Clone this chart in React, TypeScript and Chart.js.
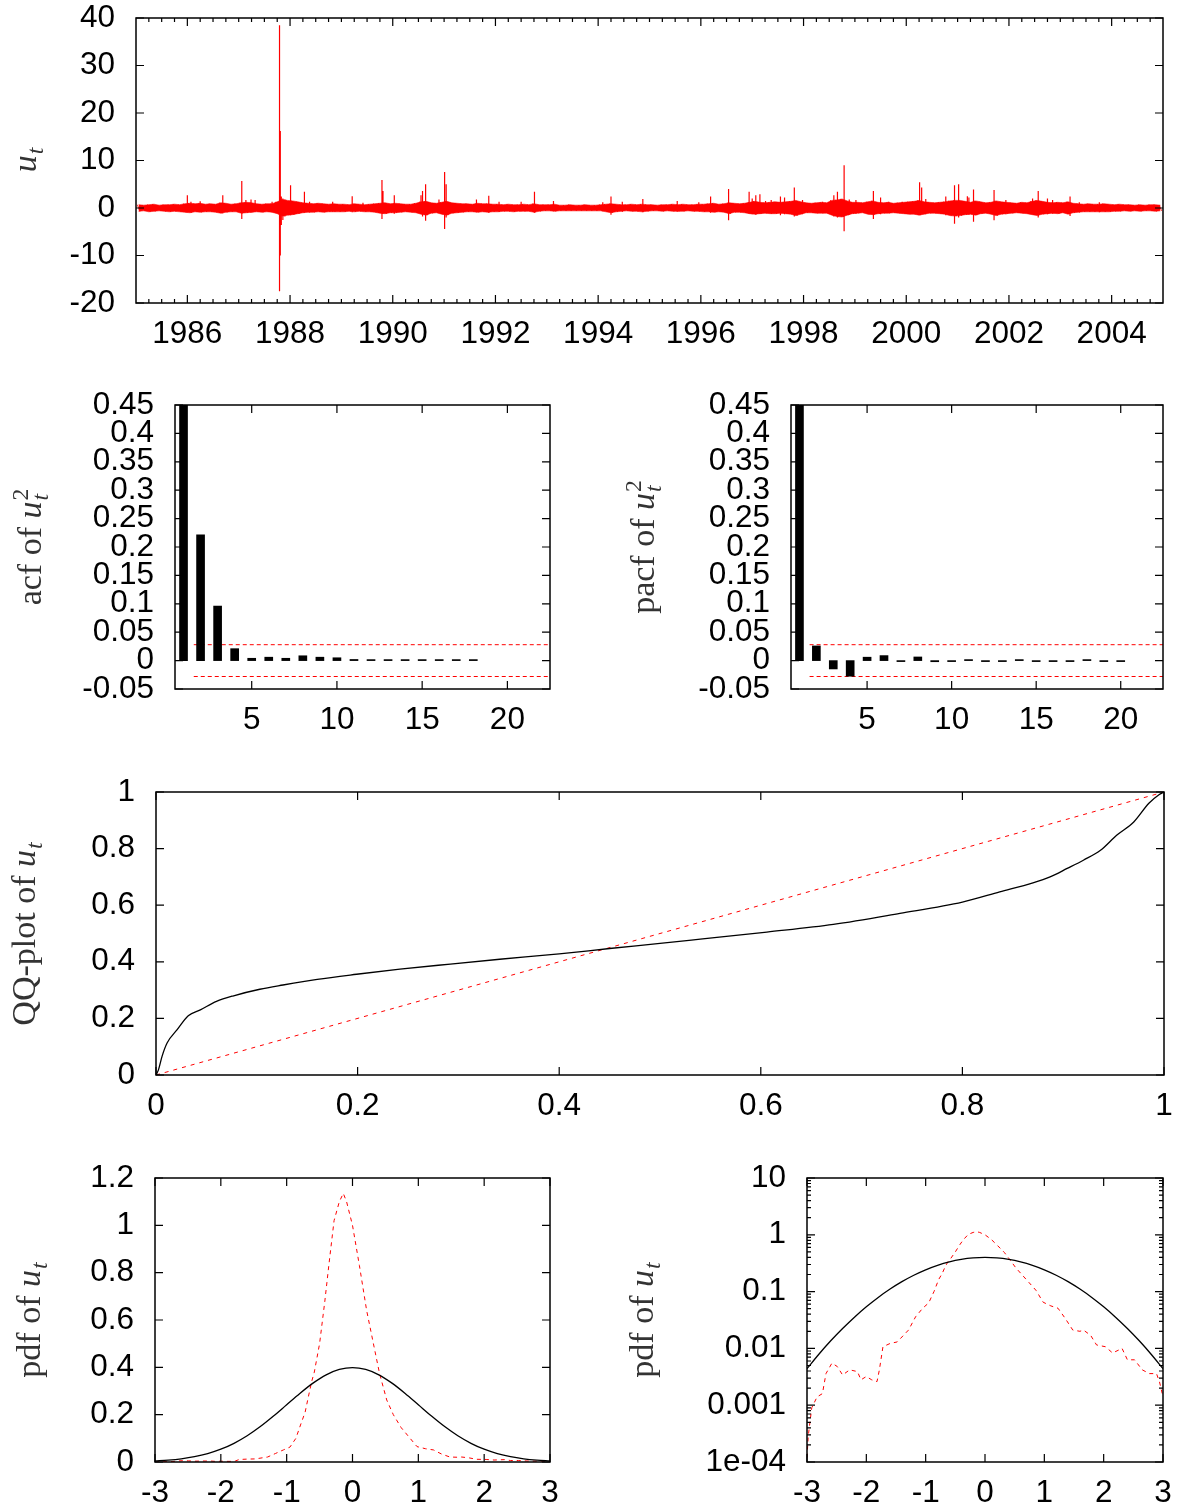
import React, { useEffect, useRef } from 'react';
import { Chart, registerables } from 'chart.js';

Chart.register(...registerables);

// ===================== DATA =====================
// Panel 1: u_t time series (envelope of the daily noise per 0.1-year bin, plus isolated spikes)
const bandStart = 1985;
const bandStep = 0.1;
const bandHi = [
  0.7, 0.6, 0.7, 0.8, 0.6, 0.7, 0.7, 0.8, 0.7, 0.9,
  1.0, 0.9, 1.0, 0.8, 0.9, 0.8, 1.1, 1.0, 0.8, 0.9,
  1.1, 1.2, 1.1, 0.9, 0.8, 0.9, 0.9, 1.3, 1.8, 1.6,
  1.5, 1.3, 1.1, 1.0, 0.9, 1.0, 0.9, 0.8, 0.9, 0.8,
  0.8, 0.7, 0.9, 0.8, 0.7, 0.8, 0.9, 1.0, 1.1, 0.9,
  1.0, 0.9, 0.8, 0.8, 1.0, 1.3, 1.4, 1.1, 1.0, 1.2,
  1.4, 1.1, 1.0, 0.9, 0.9, 0.8, 1.0, 0.9, 0.9, 0.8,
  0.8, 0.7, 0.8, 0.7, 0.7, 0.8, 0.7, 0.9, 0.7, 0.7,
  0.7, 0.8, 0.6, 0.6, 0.7, 0.6, 0.6, 0.7, 0.6, 0.6,
  0.7, 0.8, 0.9, 0.8, 0.7, 0.7, 0.8, 0.7, 0.8, 0.7,
  0.7, 0.6, 0.7, 0.7, 0.8, 0.7, 0.8, 0.7, 0.7, 0.8,
  0.8, 0.9, 1.0, 0.8, 0.9, 1.1, 1.0, 0.9, 1.0, 1.2,
  1.4, 1.2, 1.1, 1.2, 1.3, 1.2, 1.3, 1.4, 1.6, 1.3,
  1.1, 1.0, 1.1, 1.2, 1.1, 1.6, 1.7, 1.9, 1.5, 1.2,
  1.2, 1.1, 1.3, 1.5, 1.2, 1.1, 1.2, 1.0, 1.1, 1.2,
  1.3, 1.4, 1.6, 1.3, 1.2, 1.1, 1.2, 1.3, 1.5, 1.6,
  1.6, 1.4, 1.2, 1.5, 1.3, 1.1, 1.2, 1.5, 1.3, 1.2,
  1.1, 1.0, 1.2, 1.1, 1.4, 1.6, 1.4, 1.2, 1.1, 1.2,
  1.1, 1.3, 1.0, 0.9, 0.8, 0.9, 0.8, 0.8, 0.9, 0.8,
  0.7, 0.8, 0.7, 0.7, 0.6, 0.7, 0.6, 0.7, 0.7, 0.6,
];
const bandLo = [
  -0.7, -0.6, -0.8, -0.7, -0.6, -0.7, -0.8, -0.7, -0.8, -0.9,
  -1.0, -0.8, -0.9, -0.8, -0.8, -0.9, -1.1, -0.9, -0.8, -0.8,
  -1.1, -1.0, -0.9, -0.8, -0.9, -0.8, -0.9, -1.2, -1.7, -1.5,
  -1.4, -1.2, -1.0, -0.9, -0.9, -0.8, -0.9, -0.8, -0.8, -0.8,
  -0.8, -0.7, -0.8, -0.7, -0.8, -0.8, -0.9, -1.1, -1.2, -1.0,
  -1.0, -0.9, -0.8, -0.9, -1.0, -1.3, -1.5, -1.1, -1.0, -1.3,
  -1.5, -1.1, -1.0, -0.9, -0.8, -0.8, -0.9, -0.8, -0.9, -0.8,
  -0.8, -0.7, -0.7, -0.8, -0.7, -0.7, -0.7, -0.9, -0.7, -0.6,
  -0.6, -0.7, -0.6, -0.6, -0.6, -0.6, -0.6, -0.6, -0.6, -0.6,
  -0.6, -0.8, -1.0, -0.8, -0.7, -0.6, -0.7, -0.7, -0.8, -0.7,
  -0.6, -0.6, -0.7, -0.6, -0.7, -0.7, -0.7, -0.6, -0.7, -0.7,
  -0.8, -0.8, -0.9, -0.8, -0.9, -1.2, -0.9, -0.9, -1.0, -1.2,
  -1.3, -1.2, -1.1, -1.2, -1.2, -1.1, -1.2, -1.3, -1.6, -1.3,
  -1.0, -1.0, -1.1, -1.1, -1.1, -1.5, -1.8, -1.9, -1.5, -1.2,
  -1.1, -1.0, -1.3, -1.4, -1.2, -1.1, -1.1, -1.0, -1.1, -1.2,
  -1.3, -1.3, -1.5, -1.3, -1.1, -1.1, -1.2, -1.3, -1.6, -1.7,
  -1.6, -1.4, -1.3, -1.5, -1.2, -1.1, -1.3, -1.6, -1.3, -1.2,
  -1.1, -1.0, -1.1, -1.2, -1.4, -1.6, -1.3, -1.2, -1.1, -1.2,
  -1.0, -1.3, -1.0, -0.9, -0.8, -0.8, -0.8, -0.8, -0.8, -0.8,
  -0.7, -0.7, -0.6, -0.7, -0.6, -0.7, -0.6, -0.6, -0.7, -0.6,
];
const spikeYears = [
  1986.0, 1986.07, 1986.25, 1986.69, 1987.06, 1987.14, 1987.24, 1987.32, 1987.65, 1987.795,
  1987.81, 1987.83, 1987.86, 1987.9, 1988.01, 1988.28, 1988.38, 1988.83, 1989.21, 1989.42,
  1989.79, 1989.81, 1990.03, 1990.55, 1990.58, 1990.64, 1990.9, 1991.01, 1991.04, 1991.63,
  1991.87, 1992.07, 1992.5, 1992.76, 1993.13, 1994.09, 1994.25, 1994.47, 1994.87, 1995.54,
  1995.96, 1996.19, 1996.54, 1996.94, 1997.0, 1997.07, 1997.15, 1997.26, 1997.37, 1997.55,
  1997.63, 1997.82, 1997.98, 1998.37, 1998.59, 1998.66, 1998.79, 1998.89, 1999.02, 1999.36,
  1999.5, 1999.66, 1999.92, 2000.26, 2000.3, 2000.38, 2000.77, 2000.94, 2001.02, 2001.19,
  2001.22, 2001.31, 2001.71, 2001.94, 2002.46, 2002.57, 2002.75, 2002.85, 2003.19, 2003.37,
  2003.76,
];
const spikeHi = [
  2.7, 1.3, 1.4, 2.7, 5.7, 1.7, 1.8, 1.7, 1.3, 38.5,
  16.2, 2.4, 2.0, 1.8, 4.8, 3.4, 1.3, 1.3, 2.5, 1.1,
  5.9, 3.6, 2.7, 2.7, 3.6, 5.0, 1.8, 7.6, 5.0, 1.8,
  2.6, 1.3, 1.3, 3.4, 1.5, 1.2, 2.4, 1.3, 1.9, 1.45,
  1.2, 2.4, 4.0, 3.4, 2.0, 2.7, 2.9, 1.5, 1.7, 2.4,
  2.2, 4.3, 1.7, 1.3, 2.7, 3.4, 9.0, 1.8, 1.7, 3.6,
  2.2, 1.3, 1.3, 5.4, 4.3, 1.9, 2.4, 4.8, 5.0, 2.5,
  2.2, 3.9, 3.8, 1.7, 2.0, 3.6, 2.0, 1.7, 2.4, 1.2,
  1.2,
];
const spikeLo = [
  -0.9, -0.7, -0.8, -1.1, -2.3, -0.9, -1.0, -0.8, -0.9, -17.5,
  -10.0, -3.6, -2.5, -1.8, -1.5, -0.9, -0.9, -0.8, -0.9, -0.7,
  -2.3, -1.2, -1.2, -1.0, -1.8, -2.7, -1.0, -4.4, -2.0, -0.9,
  -1.0, -0.8, -0.7, -1.0, -0.7, -0.7, -1.4, -0.8, -0.9, -0.8,
  -0.7, -1.0, -2.6, -1.2, -1.3, -1.4, -1.2, -1.0, -1.1, -1.5,
  -1.3, -1.8, -1.2, -1.0, -1.8, -2.0, -4.9, -1.4, -1.2, -2.3,
  -1.3, -1.0, -1.1, -1.3, -1.2, -1.2, -1.5, -3.3, -2.0, -1.3,
  -1.4, -2.9, -2.6, -1.3, -1.2, -2.0, -1.3, -1.2, -1.7, -0.9,
  -0.9,
];
const yearTicks = [1986, 1988, 1990, 1992, 1994, 1996, 1998, 2000, 2002, 2004];
const yearTickLabels = ['1986', '1988', '1990', '1992', '1994', '1996', '1998', '2000', '2002', '2004'];
const utTicks = [-20, -10, 0, 10, 20, 30, 40];
const utTickLabels = ['-20', '-10', '0', '10', '20', '30', '40'];

// Panels 2-3: acf / pacf of u_t^2
const acfValues = [0.46, 0.2214, 0.096, 0.021, 0.0041, 0.006, 0.0041, 0.0085, 0.006, 0.005, 0.002, 0.0005, 0.0005, 0.0005, 0.0005, 0.001, 0.001, 0.001];
const pacfValues = [0.46, 0.0258, -0.0147, -0.0275, 0.006, 0.0088, -0.001, 0.0064, -0.002, -0.0008, 0.0005, -0.0006, -0.0005, 0.0004, -0.0008, -0.0004, -0.0005, 0.0003, -0.0015, -0.0006];
const confBound = 0.028;
const boundLagStart = 1.6;
const boundLagEnd = 22.5;
const lagTicks = [5, 10, 15, 20];
const lagTickLabels = ['5', '10', '15', '20'];
const corrTicks = [-0.05, 0, 0.05, 0.1, 0.15, 0.2, 0.25, 0.3, 0.35, 0.4, 0.45];
const corrTickLabels = ['-0.05', '0', '0.05', '0.1', '0.15', '0.2', '0.25', '0.3', '0.35', '0.4', '0.45'];

// Panel 4: QQ plot
const qqX = [0, 0.0025, 0.006, 0.011, 0.021, 0.032, 0.044, 0.06, 0.077, 0.103, 0.126, 0.16, 0.199, 0.242, 0.292, 0.341, 0.4, 0.45, 0.5, 0.54, 0.606, 0.672, 0.738, 0.8, 0.837, 0.87, 0.887, 0.904, 0.92, 0.937, 0.953, 0.97, 0.985, 0.995, 1.0];
const qqY = [0, 0.019, 0.066, 0.113, 0.16, 0.209, 0.23, 0.26, 0.28, 0.303, 0.318, 0.338, 0.356, 0.374, 0.392, 0.409, 0.428, 0.447, 0.465, 0.48, 0.505, 0.532, 0.571, 0.611, 0.647, 0.679, 0.7, 0.73, 0.759, 0.794, 0.847, 0.894, 0.96, 0.99, 1.0];
const diagX = [0, 1];
const diagY = [0, 1];
const unitTicks = [0, 0.2, 0.4, 0.6, 0.8, 1];
const unitTickLabels = ['0', '0.2', '0.4', '0.6', '0.8', '1'];

// Panels 5-6: pdf of u_t (normal reference and empirical)
const normX = [-3, -2.8, -2.6, -2.4, -2.2, -2, -1.8, -1.6, -1.4, -1.2, -1, -0.8, -0.6, -0.4, -0.2, 0, 0.2, 0.4, 0.6, 0.8, 1, 1.2, 1.4, 1.6, 1.8, 2, 2.2, 2.4, 2.6, 2.8, 3];
const normY = [0.0044, 0.0079, 0.0136, 0.0224, 0.0355, 0.054, 0.079, 0.1109, 0.1497, 0.1942, 0.242, 0.2897, 0.3332, 0.3683, 0.391, 0.3989, 0.391, 0.3683, 0.3332, 0.2897, 0.242, 0.1942, 0.1497, 0.1109, 0.079, 0.054, 0.0355, 0.0224, 0.0136, 0.0079, 0.0044];
const pdfX = [-3.0, -2.98, -2.92, -2.83, -2.74, -2.68, -2.58, -2.49, -2.4, -2.28, -2.15, -2.09, -2.0, -1.91, -1.82, -1.78, -1.72, -1.6, -1.48, -1.29, -1.17, -1.05, -0.95, -0.86, -0.78, -0.72, -0.67, -0.62, -0.58, -0.5, -0.42, -0.36, -0.28, -0.2, -0.14, -0.09, 0.0, 0.105, 0.215, 0.325, 0.41, 0.52, 0.62, 0.74, 0.86, 0.98, 1.11, 1.23, 1.35, 1.48, 1.6, 1.66, 1.78, 1.88, 2.03, 2.15, 2.31, 2.4, 2.52, 2.65, 2.77, 2.89, 2.94, 3.0];
const pdfY = [0.00012, 0.00028, 0.0009, 0.0014, 0.0016, 0.0036, 0.0055, 0.0048, 0.0034, 0.0042, 0.0039, 0.0028, 0.0032, 0.0028, 0.0026, 0.0042, 0.0107, 0.0122, 0.013, 0.021, 0.036, 0.051, 0.063, 0.1, 0.164, 0.21, 0.276, 0.34, 0.38, 0.5, 0.68, 0.83, 1.02, 1.1, 1.135, 1.1, 1.0, 0.83, 0.64, 0.49, 0.375, 0.262, 0.2, 0.145, 0.105, 0.065, 0.056, 0.051, 0.034, 0.021, 0.02, 0.021, 0.017, 0.0115, 0.0107, 0.0083, 0.01, 0.0063, 0.0063, 0.0042, 0.0036, 0.0036, 0.0026, 0.0014];
const sigmaTicks = [-3, -2, -1, 0, 1, 2, 3];
const sigmaTickLabels = ['-3', '-2', '-1', '0', '1', '2', '3'];
const pdfTicks = [0, 0.2, 0.4, 0.6, 0.8, 1, 1.2];
const pdfTickLabels = ['0', '0.2', '0.4', '0.6', '0.8', '1', '1.2'];
const logTicks = [0.0001, 0.001, 0.01, 0.1, 1, 10];
const logTickLabels = ['1e-04', '0.001', '0.01', '0.1', '1', '10'];

// ===================== STYLE / LAYOUT =====================
const RED = '#ff0000';
const TICK_FONT = { family: '"Liberation Sans", Arial, Helvetica, sans-serif', size: 31.5, lineHeight: 1 };
const TITLE_FAMILY = '"Liberation Serif", "Times New Roman", serif';
const TITLE_SIZE = 34;

type Part = { text: string; italic?: boolean; sub?: string; sup?: string };
type Rect = { x: number; y: number; w: number; h: number };
type Area = { L: number; T: number; R: number; B: number };

const PANELS: { canvas: Rect; area: Area; title: { parts: Part[]; cx: number; cy: number } }[] = [
  { canvas: { x: 0, y: 0, w: 1193, h: 360 }, area: { L: 136, T: 18, R: 1163, B: 303 },
    title: { parts: [{ text: 'u', italic: true, sub: 't' }], cx: 26, cy: 160 } },
  { canvas: { x: 0, y: 380, w: 590, h: 370 }, area: { L: 175, T: 405, R: 550, B: 689 },
    title: { parts: [{ text: 'acf of ' }, { text: 'u', italic: true, sub: 't', sup: '2' }], cx: 31, cy: 547 } },
  { canvas: { x: 600, y: 380, w: 593, h: 370 }, area: { L: 791, T: 405, R: 1163, B: 689 },
    title: { parts: [{ text: 'pacf of ' }, { text: 'u', italic: true, sub: 't', sup: '2' }], cx: 644, cy: 547 } },
  { canvas: { x: 0, y: 765, w: 1193, h: 370 }, area: { L: 156, T: 792, R: 1164, B: 1075 },
    title: { parts: [{ text: 'QQ-plot of ' }, { text: 'u', italic: true, sub: 't' }], cx: 25, cy: 934 } },
  { canvas: { x: 0, y: 1150, w: 590, h: 362 }, area: { L: 155, T: 1178, R: 550, B: 1462 },
    title: { parts: [{ text: 'pdf of ' }, { text: 'u', italic: true, sub: 't' }], cx: 30, cy: 1320 } },
  { canvas: { x: 600, y: 1150, w: 593, h: 362 }, area: { L: 807, T: 1178, R: 1163, B: 1462 },
    title: { parts: [{ text: 'pdf of ' }, { text: 'u', italic: true, sub: 't' }], cx: 643, cy: 1320 } },
];

function drawTitle(ctx: CanvasRenderingContext2D, parts: Part[], cx: number, cy: number) {
  const s = TITLE_SIZE;
  const ss = s * 0.7;
  const fR = `${s}px ${TITLE_FAMILY}`;
  const fI = `italic ${s}px ${TITLE_FAMILY}`;
  const fSR = `${ss}px ${TITLE_FAMILY}`;
  const fSI = `italic ${ss}px ${TITLE_FAMILY}`;
  const widths = parts.map((p) => {
    ctx.font = p.italic ? fI : fR;
    const mw = ctx.measureText(p.text).width;
    let ew = 0;
    if (p.sub) { ctx.font = fSI; ew = Math.max(ew, ctx.measureText(p.sub).width + 1); }
    if (p.sup) { ctx.font = fSR; ew = Math.max(ew, ctx.measureText(p.sup).width + 1); }
    return [mw, ew];
  });
  const total = widths.reduce((a, w) => a + w[0] + w[1], 0);
  ctx.save();
  ctx.translate(cx, cy);
  ctx.rotate(-Math.PI / 2);
  ctx.fillStyle = '#333333';
  ctx.textAlign = 'left';
  ctx.textBaseline = 'alphabetic';
  let x = -total / 2;
  const base = s * 0.3;
  parts.forEach((p, k) => {
    ctx.font = p.italic ? fI : fR;
    ctx.fillText(p.text, x, base);
    x += widths[k][0];
    if (p.sub) { ctx.font = fSI; ctx.fillText(p.sub, x + 1, base + s * 0.2); }
    if (p.sup) { ctx.font = fSR; ctx.fillText(p.sup, x + 1, base - s * 0.4); }
    x += widths[k][1];
  });
  ctx.restore();
}

function framePlugin(panel: typeof PANELS[number], xMinor: number[], yMinor: number[]) {
  return {
    id: 'gnuFrame',
    afterDatasetsDraw(chart: any) {
      const { ctx, chartArea: a } = chart;
      const xs = chart.scales.x;
      const ys = chart.scales.y;
      ctx.save();
      ctx.strokeStyle = '#000';
      ctx.lineWidth = 1.2;
      ctx.beginPath();
      const xt = (v: number, len: number) => {
        const p = xs.getPixelForValue(v);
        if (p < a.left - 0.5 || p > a.right + 0.5) return;
        ctx.moveTo(p, a.bottom); ctx.lineTo(p, a.bottom - len);
        ctx.moveTo(p, a.top); ctx.lineTo(p, a.top + len);
      };
      const yt = (v: number, len: number) => {
        const p = ys.getPixelForValue(v);
        if (p < a.top - 0.5 || p > a.bottom + 0.5) return;
        ctx.moveTo(a.left, p); ctx.lineTo(a.left + len, p);
        ctx.moveTo(a.right, p); ctx.lineTo(a.right - len, p);
      };
      xs.ticks.forEach((t: any) => xt(t.value, 8));
      xMinor.forEach((v) => xt(v, 4));
      ys.ticks.forEach((t: any) => yt(t.value, 8));
      yMinor.forEach((v) => yt(v, 4));
      ctx.stroke();
      ctx.lineWidth = 1.5;
      ctx.strokeRect(a.left, a.top, a.right - a.left, a.bottom - a.top);
      ctx.restore();
    },
    afterDraw(chart: any) {
      drawTitle(chart.ctx, panel.title.parts, panel.title.cx - panel.canvas.x, panel.title.cy - panel.canvas.y);
    },
  };
}

function axis(o: { min: number; max: number; ticks: number[]; labels: string[]; horizontal: boolean; size: number; log?: boolean }) {
  return {
    type: o.log ? 'logarithmic' : 'linear',
    position: o.horizontal ? 'bottom' : 'left',
    min: o.min,
    max: o.max,
    bounds: 'data',
    offset: false,
    grid: { display: false, drawTicks: false },
    border: { display: false },
    ticks: {
      font: TICK_FONT,
      color: '#000',
      padding: o.horizontal ? 16 : 21,
      autoSkip: false,
      maxRotation: 0,
      minRotation: 0,
      callback: (_v: any, i: number) => o.labels[i],
    },
    afterBuildTicks: (s: any) => { s.ticks = o.ticks.map((v) => ({ value: v })); },
    afterFit: (s: any) => {
      if (o.horizontal) s.height = o.size; else s.width = o.size;
      s.paddingTop = 0; s.paddingBottom = 0; s.paddingLeft = 0; s.paddingRight = 0;
    },
  };
}

function baseOptions(panel: typeof PANELS[number], xAx: any, yAx: any) {
  const c = panel.canvas, a = panel.area;
  return {
    responsive: false,
    maintainAspectRatio: false,
    animation: false,
    devicePixelRatio: 1,
    events: [],
    layout: { padding: { left: 0, bottom: 0, top: a.T - c.y, right: c.x + c.w - a.R } },
    plugins: { legend: { display: false }, tooltip: { enabled: false } },
    scales: { x: xAx, y: yAx },
  };
}

function sizes(panel: typeof PANELS[number]) {
  return { yw: panel.area.L - panel.canvas.x, xh: panel.canvas.y + panel.canvas.h - panel.area.B };
}

function buildConfigs(): any[] {
  const cfgs: any[] = [];

  // ---- Panel 1: time series ----
  {
    const p = PANELS[0];
    const { yw, xh } = sizes(p);
    const hiPts = bandHi.map((h, i) => ({ x: bandStart + bandStep * (i + 0.5), y: h }));
    const loPts = bandLo.map((l, i) => ({ x: bandStart + bandStep * (i + 0.5), y: l }));
    const zigPts: { x: number; y: number }[] = [];
    bandHi.forEach((h, i) => {
      zigPts.push({ x: bandStart + bandStep * (i + 0.25), y: h });
      zigPts.push({ x: bandStart + bandStep * (i + 0.75), y: bandLo[i] });
    });
    const spikePts: { x: number; y: number | null }[] = [];
    spikeYears.forEach((t, i) => {
      spikePts.push({ x: t, y: spikeLo[i] }, { x: t, y: spikeHi[i] }, { x: t, y: null });
    });
    const xMinor: number[] = [];
    for (let q = 1; q < 80; q++) {
      const v = 1985 + q * 0.25;
      if (!yearTicks.includes(v)) xMinor.push(v);
    }
    cfgs.push({
      type: 'line',
      data: {
        datasets: [
          { data: hiPts, borderColor: 'rgba(255,0,0,0.55)', borderWidth: 1, pointRadius: 0, tension: 0, fill: '+1', backgroundColor: RED },
          { data: loPts, borderColor: 'rgba(255,0,0,0.55)', borderWidth: 1, pointRadius: 0, tension: 0, fill: false },
          { data: zigPts, borderColor: RED, borderWidth: 0.8, pointRadius: 0, tension: 0, fill: false },
          { data: spikePts, borderColor: RED, borderWidth: 1.2, pointRadius: 0, tension: 0, fill: false, spanGaps: false },
        ],
      },
      options: baseOptions(p,
        axis({ min: 1985, max: 2005, ticks: yearTicks, labels: yearTickLabels, horizontal: true, size: xh }),
        axis({ min: -20, max: 40, ticks: utTicks, labels: utTickLabels, horizontal: false, size: yw })),
      plugins: [framePlugin(p, xMinor, [])],
    });
  }

  // ---- Panels 2-3: acf / pacf ----
  [acfValues, pacfValues].forEach((vals, k) => {
    const p = PANELS[1 + k];
    const { yw, xh } = sizes(p);
    cfgs.push({
      type: 'bar',
      data: {
        datasets: [
          { type: 'bar', data: vals.map((v, i) => ({ x: i + 1, y: v })), backgroundColor: '#000', borderWidth: 0, barThickness: 8, minBarLength: 1 },
          { type: 'line', data: [{ x: boundLagStart, y: confBound }, { x: boundLagEnd, y: confBound }], borderColor: RED, borderWidth: 1, borderDash: [4, 3], pointRadius: 0, fill: false },
          { type: 'line', data: [{ x: boundLagStart, y: -confBound }, { x: boundLagEnd, y: -confBound }], borderColor: RED, borderWidth: 1, borderDash: [4, 3], pointRadius: 0, fill: false },
        ],
      },
      options: baseOptions(p,
        axis({ min: 0.5, max: 22.5, ticks: lagTicks, labels: lagTickLabels, horizontal: true, size: xh }),
        axis({ min: -0.05, max: 0.45, ticks: corrTicks, labels: corrTickLabels, horizontal: false, size: yw })),
      plugins: [framePlugin(p, [], [])],
    });
  });

  // ---- Panel 4: QQ plot ----
  {
    const p = PANELS[3];
    const { yw, xh } = sizes(p);
    cfgs.push({
      type: 'line',
      data: {
        datasets: [
          { data: qqX.map((x, i) => ({ x, y: qqY[i] })), borderColor: '#000', borderWidth: 1.3, pointRadius: 0, cubicInterpolationMode: 'monotone', fill: false },
          { data: diagX.map((x, i) => ({ x, y: diagY[i] })), borderColor: RED, borderWidth: 1, borderDash: [4, 5], pointRadius: 0, fill: false },
        ],
      },
      options: baseOptions(p,
        axis({ min: 0, max: 1, ticks: unitTicks, labels: unitTickLabels, horizontal: true, size: xh }),
        axis({ min: 0, max: 1, ticks: unitTicks, labels: unitTickLabels, horizontal: false, size: yw })),
      plugins: [framePlugin(p, [], [])],
    });
  }

  // ---- Panels 5-6: pdf linear / log ----
  [false, true].forEach((isLog, k) => {
    const p = PANELS[4 + k];
    const { yw, xh } = sizes(p);
    const yMinor: number[] = [];
    if (isLog) {
      for (let e = -4; e < 1; e++) for (let m = 2; m <= 9; m++) yMinor.push(m * Math.pow(10, e));
    }
    cfgs.push({
      type: 'line',
      data: {
        datasets: [
          { data: normX.map((x, i) => ({ x, y: normY[i] })), borderColor: '#000', borderWidth: 1.3, pointRadius: 0, cubicInterpolationMode: 'monotone', fill: false },
          { data: pdfX.map((x, i) => ({ x, y: pdfY[i] })), borderColor: RED, borderWidth: 1, borderDash: [4, 4], pointRadius: 0, tension: 0, fill: false },
        ],
      },
      options: baseOptions(p,
        axis({ min: -3, max: 3, ticks: sigmaTicks, labels: sigmaTickLabels, horizontal: true, size: xh }),
        isLog
          ? axis({ min: 0.0001, max: 10, ticks: logTicks, labels: logTickLabels, horizontal: false, size: yw, log: true })
          : axis({ min: 0, max: 1.2, ticks: pdfTicks, labels: pdfTickLabels, horizontal: false, size: yw })),
      plugins: [framePlugin(p, [], yMinor)],
    });
  });

  return cfgs;
}

export default function App() {
  const r0 = useRef<HTMLCanvasElement>(null);
  const r1 = useRef<HTMLCanvasElement>(null);
  const r2 = useRef<HTMLCanvasElement>(null);
  const r3 = useRef<HTMLCanvasElement>(null);
  const r4 = useRef<HTMLCanvasElement>(null);
  const r5 = useRef<HTMLCanvasElement>(null);
  const refs = [r0, r1, r2, r3, r4, r5];

  useEffect(() => {
    document.body.style.margin = '0';
    const cfgs = buildConfigs();
    const charts = refs.map((r, i) => new Chart(r.current as HTMLCanvasElement, cfgs[i]));
    return () => charts.forEach((c) => c.destroy());
  }, []);

  return (
    <div style={{ position: 'absolute', left: 0, top: 0, width: 1193, height: 1512, background: '#fff' }}>
      {PANELS.map((p, i) => (
        <canvas
          key={i}
          ref={refs[i]}
          width={p.canvas.w}
          height={p.canvas.h}
          style={{ position: 'absolute', left: p.canvas.x, top: p.canvas.y, width: p.canvas.w, height: p.canvas.h }}
        />
      ))}
    </div>
  );
}
